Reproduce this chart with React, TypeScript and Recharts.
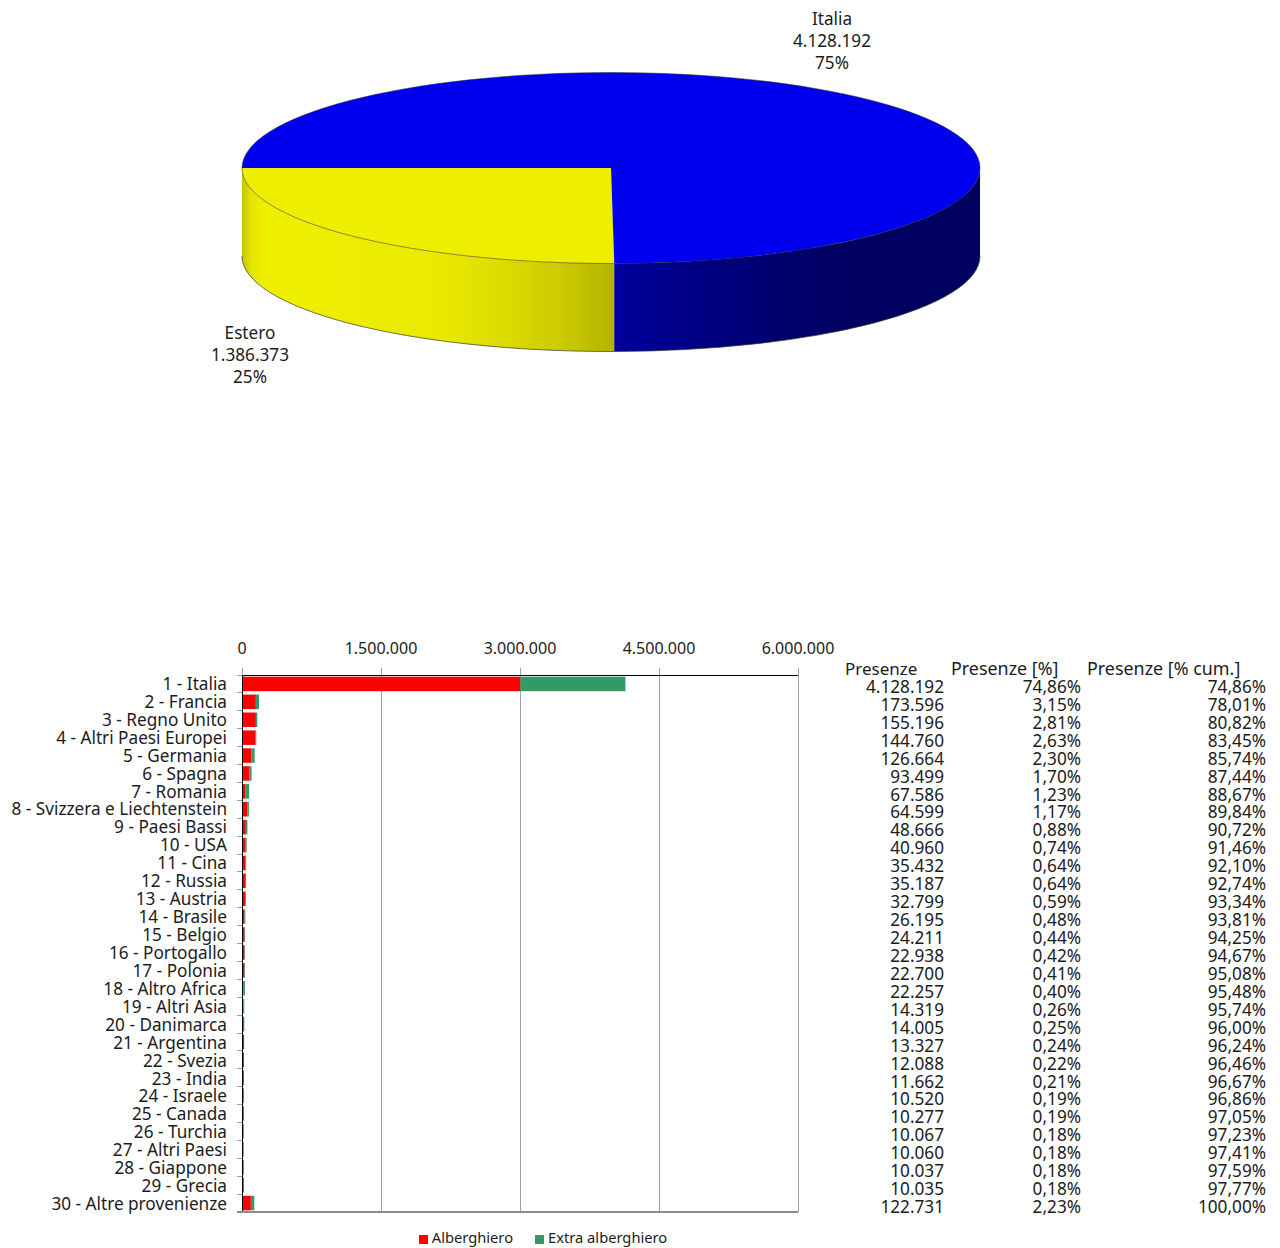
import React from 'react';
import { PieChart, Pie, Cell, BarChart, Bar, XAxis, YAxis, CartesianGrid, Legend } from 'recharts';

const FONT = '"Noto Sans", Tahoma, sans-serif';
const TEXT = '#1c1c1c';
const BODY_SIZE = 17.2;

const pieNames = ['Estero', 'Italia'];
const pieValues = [1386373, 4128192];
const pieLabels = ['1.386.373', '4.128.192'];
const pieColors = ['#eeee00', '#0000ee'];

const categories = ['1 - Italia','2 - Francia','3 - Regno Unito','4 - Altri Paesi Europei','5 - Germania','6 - Spagna','7 - Romania','8 - Svizzera e Liechtenstein','9 - Paesi Bassi','10 - USA','11 - Cina','12 - Russia','13 - Austria','14 - Brasile','15 - Belgio','16 - Portogallo','17 - Polonia','18 - Altro Africa','19 - Altri Asia','20 - Danimarca','21 - Argentina','22 - Svezia','23 - India','24 - Israele','25 - Canada','26 - Turchia','27 - Altri Paesi','28 - Giappone','29 - Grecia','30 - Altre provenienze'];
const alberghiero = [2995000,140000,140000,133000,90000,68000,29000,46000,32000,24000,29000,30000,25000,18000,18000,18000,18000,3000,7000,11000,12000,11000,10500,9500,9500,1500,6000,8000,9500,86000];
const extraAlberghiero = [1133192,33596,15196,11760,36664,25499,38586,18599,16666,16960,6432,5187,7799,8195,6211,4938,4700,19257,7319,3005,1327,1088,1162,1020,777,8567,4060,2037,535,36731];
const presenze = ['4.128.192','173.596','155.196','144.760','126.664','93.499','67.586','64.599','48.666','40.960','35.432','35.187','32.799','26.195','24.211','22.938','22.700','22.257','14.319','14.005','13.327','12.088','11.662','10.520','10.277','10.067','10.060','10.037','10.035','122.731'];
const presenzePct = ['74,86%','3,15%','2,81%','2,63%','2,30%','1,70%','1,23%','1,17%','0,88%','0,74%','0,64%','0,64%','0,59%','0,48%','0,44%','0,42%','0,41%','0,40%','0,26%','0,25%','0,24%','0,22%','0,21%','0,19%','0,19%','0,18%','0,18%','0,18%','0,18%','2,23%'];
const presenzeCum = ['74,86%','78,01%','80,82%','83,45%','85,74%','87,44%','88,67%','89,84%','90,72%','91,46%','92,10%','92,74%','93,34%','93,81%','94,25%','94,67%','95,08%','95,48%','95,74%','96,00%','96,24%','96,46%','96,67%','96,86%','97,05%','97,23%','97,41%','97,59%','97,77%','100,00%'];
const xTicks = [0, 1500000, 3000000, 4500000, 6000000];
const tableHeaders = ['Presenze', 'Presenze [%]', 'Presenze [% cum.]'];

const pieData = pieNames.map((name, i) => ({ name, value: pieValues[i], label: pieLabels[i] }));
const barData = categories.map((name, i) => ({ name, alberghiero: alberghiero[i], extra: extraAlberghiero[i] }));

const fmt = (v: number) => String(v).replace(/\B(?=(\d{3})+(?!\d))/g, '.');

const RY_RATIO = 95.5 / 369;
const DEPTH = 88;

function PieSlice3D(props: any) {
  const { cx, cy, outerRadius, startAngle, endAngle, fill, index } = props;
  const rx = outerRadius;
  const ry = outerRadius * RY_RATIO;
  const p = (a: number, dy = 0) => {
    const r = (a * Math.PI) / 180;
    return `${cx + rx * Math.cos(r)} ${cy - ry * Math.sin(r) + dy}`;
  };
  const large = Math.abs(endAngle - startAngle) > 180 ? 1 : 0;
  const top = `M${cx} ${cy} L${p(startAngle)} A${rx} ${ry} 0 ${large} 0 ${p(endAngle)} Z`;
  const w0 = Math.max(startAngle, 180);
  const w1 = Math.min(endAngle, 360);
  const wall = `M${p(w0)} A${rx} ${ry} 0 0 0 ${p(w1)} L${p(w1, DEPTH)} A${rx} ${ry} 0 0 1 ${p(w0, DEPTH)} Z`;
  const bottomEdge = `M${p(w0, DEPTH)} A${rx} ${ry} 0 0 0 ${p(w1, DEPTH)}`;
  const topEdge = `M${p(startAngle)} A${rx} ${ry} 0 ${large} 0 ${p(endAngle)}`;
  const gid = `wall-${index}`;
  return (
    <g>
      <defs>
        {index === 0 ? (
          <linearGradient id={gid} gradientUnits="userSpaceOnUse" x1={242} x2={614} y1={0} y2={0}>
            <stop offset="0" stopColor="#c4c400" />
            <stop offset="0.025" stopColor="#e4e400" />
            <stop offset="0.06" stopColor="#efef00" />
            <stop offset="0.52" stopColor="#eaea00" />
            <stop offset="0.7" stopColor="#dcdc00" />
            <stop offset="0.85" stopColor="#cccc00" />
            <stop offset="1" stopColor="#b4b400" />
          </linearGradient>
        ) : (
          <linearGradient id={gid} gradientUnits="userSpaceOnUse" x1={614} x2={980} y1={0} y2={0}>
            <stop offset="0" stopColor="#00009c" />
            <stop offset="0.3" stopColor="#00007c" />
            <stop offset="0.6" stopColor="#000062" />
            <stop offset="1" stopColor="#00005e" />
          </linearGradient>
        )}
      </defs>
      <path d={wall} fill={`url(#${gid})`} />
      <path d={bottomEdge} fill="none" stroke="#333" strokeWidth={0.7} />
      <path d={top} fill={fill} />
      <path d={topEdge} fill="none" stroke="#222" strokeWidth={0.5} />
    </g>
  );
}

const labelSpots = [
  { x: 250, y: 339 },
  { x: 832, y: 25 },
];

function PieLabel(props: any) {
  const { index, name, label, percent } = props;
  const spot = labelSpots[index];
  return (
    <text x={spot.x} textAnchor="middle" fontFamily={FONT} fontSize={BODY_SIZE} fill={TEXT}>
      <tspan x={spot.x} y={spot.y}>{name}</tspan>
      <tspan x={spot.x} y={spot.y + 22}>{label}</tspan>
      <tspan x={spot.x} y={spot.y + 44}>{Math.round(percent * 100)}%</tspan>
    </text>
  );
}

const TABLE_X = [944, 1081, 1266];
const HEADER_X = [845, 951, 1087];
const HEADER_SIZE = [17, 17.9, 17.9];

function RowTick(props: any) {
  const { y, payload, index } = props;
  const h = 17.9;
  const isLast = index === categories.length - 1;
  const drift = index * 0.035;
  return (
    <g fontFamily={FONT} fontSize={BODY_SIZE} fill={TEXT}>
      <line x1={237} x2={242} y1={y - h / 2} y2={y - h / 2} stroke="#a0a0a0" shapeRendering="crispEdges" />
      {isLast && <line x1={237} x2={798} y1={y + h / 2} y2={y + h / 2} stroke="#8c8c8c" strokeWidth={1.5} shapeRendering="crispEdges" />}
      <text x={227} y={y + 6 + drift} textAnchor="end">{payload.value}</text>
      <text x={TABLE_X[0]} y={y + 9 + drift} textAnchor="end">{presenze[index]}</text>
      <text x={TABLE_X[1]} y={y + 9 + drift} textAnchor="end">{presenzePct[index]}</text>
      <text x={TABLE_X[2]} y={y + 9 + drift} textAnchor="end">{presenzeCum[index]}</text>
    </g>
  );
}

function BarRect(props: any) {
  const { x, y, width, height, fill } = props;
  return <rect x={x + 0.9} y={y - 0.3} width={Math.max(width, 0)} height={height} fill={fill} />;
}

export default function App() {
  return (
    <div style={{ position: 'absolute', left: 0, top: 0, width: 1280, height: 1248, background: '#fff', overflow: 'hidden' }}>
      <div style={{ position: 'absolute', left: 0, top: 0 }}>
        <PieChart width={1280} height={500} margin={{ top: 0, right: 0, bottom: 0, left: 0 }}>
          <Pie
            data={pieData}
            dataKey="value"
            nameKey="name"
            cx={611}
            cy={168}
            outerRadius={369}
            startAngle={180}
            endAngle={540}
            paddingAngle={0}
            stroke="none"
            isAnimationActive={false}
            labelLine={false}
            label={PieLabel}
            shape={PieSlice3D}
          >
            {pieData.map((d, i) => (
              <Cell key={d.name} fill={pieColors[i]} />
            ))}
          </Pie>
        </PieChart>
      </div>
      <div style={{ position: 'absolute', left: 0, top: 600 }}>
        <BarChart
          width={1280}
          height={648}
          data={barData}
          layout="vertical"
          barCategoryGap={0}
          barSize={14.5}
          margin={{ top: 0, right: 482, bottom: 12, left: 0 }}
        >
          <CartesianGrid vertical horizontal={false} stroke="#a0a0a0" shapeRendering="crispEdges" />
          <XAxis
            type="number"
            orientation="top"
            height={75}
            domain={[0, 6000000]}
            ticks={xTicks}
            interval={0}
            tickFormatter={fmt}
            tick={{ fontFamily: FONT, fontSize: 16, fill: TEXT }}
            tickLine={{ stroke: '#a0a0a0', shapeRendering: 'crispEdges' }}
            tickSize={7}
            tickMargin={14}
            axisLine={{ stroke: '#000', strokeWidth: 1, shapeRendering: 'crispEdges' }}
          />
          <YAxis
            type="category"
            dataKey="name"
            width={242}
            interval={0}
            tick={RowTick}
            tickLine={false}
            axisLine={{ stroke: '#000', strokeWidth: 1, shapeRendering: 'crispEdges' }}
          />
          <Bar dataKey="alberghiero" name="Alberghiero" stackId="a" fill="#ff0000" isAnimationActive={false} shape={BarRect} />
          <Bar dataKey="extra" name="Extra alberghiero" stackId="a" fill="#339966" isAnimationActive={false} shape={BarRect} />
          <Legend
            verticalAlign="bottom"
            height={24}
            iconType="square"
            iconSize={9}
            formatter={(v: string) => <span style={{ color: TEXT, fontFamily: FONT, fontSize: 14.7, marginRight: 12 }}>{v}</span>}
            wrapperStyle={{ top: 627, left: 404, width: 300, bottom: 'auto', textAlign: 'left' }}
          />
          {tableHeaders.map((h, i) => (
            <text key={h} x={HEADER_X[i]} y={75} fontFamily={FONT} fontSize={HEADER_SIZE[i]} fill={TEXT}>{h}</text>
          ))}
        </BarChart>
      </div>
    </div>
  );
}
